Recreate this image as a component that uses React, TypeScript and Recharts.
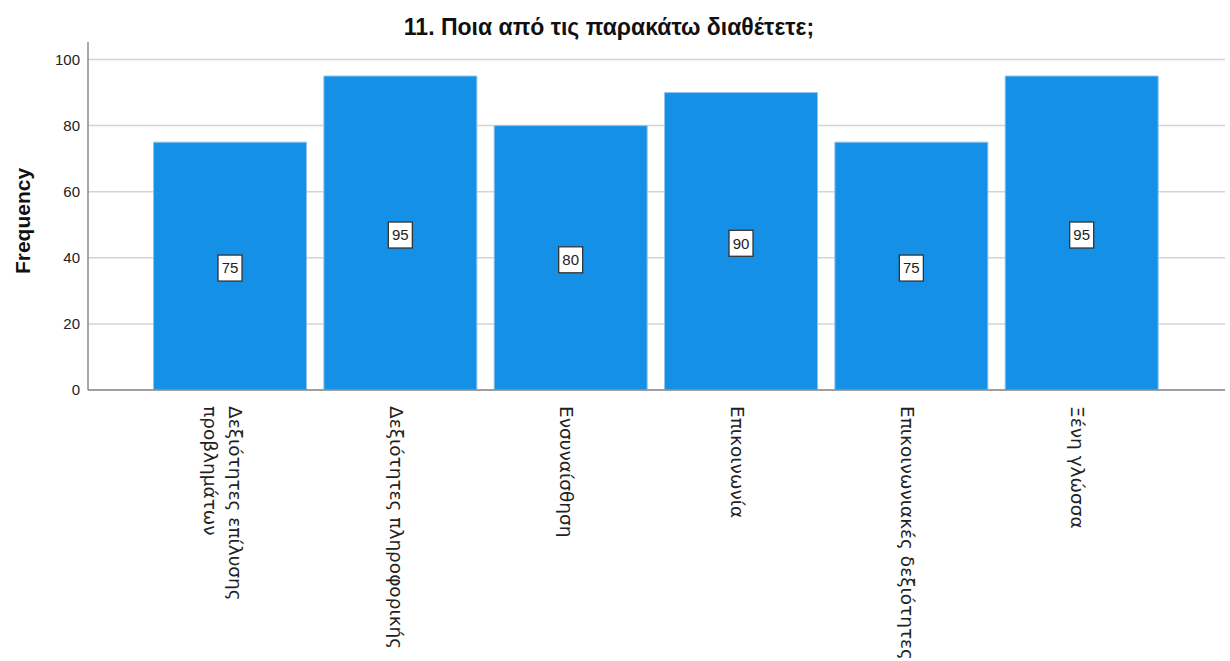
import { Bar, BarChart, CartesianGrid, LabelList, XAxis, YAxis } from "recharts";

const TITLE = "11. Ποια από τις παρακάτω διαθέτετε;";
const CATEGORIES = [
  ["Δεξιότητες επίλυσης", "προβλημάτων"],
  ["Δεξιότητες πληροφορικής"],
  ["Ενσυναίσθηση"],
  ["Επικοινωνία"],
  ["Επικοινωνιακές δεξιότητες"],
  ["Ξένη γλώσσα"],
];
const FREQUENCY = [75, 95, 80, 90, 75, 95];
const Y_TICKS = [0, 20, 40, 60, 80, 100];

const BAR_COLOR = "#1491e6";
const FONT = "'Liberation Sans', Arial, sans-serif";
const TICK_FONT = "'DejaVu Sans', sans-serif";

const data = CATEGORIES.map((lines, i) => ({
  name: lines.join(" "),
  lines,
  value: FREQUENCY[i],
}));

const CategoryTick = (props: any) => {
  const { x, y, index } = props;
  const lines: string[] = data[index]?.lines ?? [];
  const lineGap = 25;
  // first line sits to the right, following lines step left
  const start = lines.length > 1 ? 5 : -4;
  return (
    <g transform={`translate(${x},${y + 8})`}>
      {lines.map((line, i) => (
        <text
          key={line}
          transform={`translate(${start - i * lineGap},0) rotate(90)`}
          x={0}
          y={0}
          dy="0.35em"
          textAnchor="start"
          fontFamily={TICK_FONT}
          fontSize={18.5}
          fill="#222"
        >
          {line}
        </text>
      ))}
    </g>
  );
};

const ValueBox = (props: any) => {
  const { x, y, width, height, value } = props;
  const cx = Number(x) + Number(width) / 2;
  const cy = Number(y) + Number(height) / 2 + 2;
  return (
    <g>
      <rect
        x={cx - 12}
        y={cy - 13}
        width={24}
        height={26}
        fill="#fff"
        stroke="#333"
        strokeWidth={1.3}
      />
      <text
        x={cx}
        y={cy}
        dy="0.36em"
        textAnchor="middle"
        fontFamily={FONT}
        fontSize={15}
        fill="#222"
      >
        {value}
      </text>
    </g>
  );
};

const YTitle = (props: any) => {
  const vb = props.viewBox ?? {};
  const cy = Number(vb.y ?? 42) + Number(vb.height ?? 348) / 2 + 5;
  return (
    <text
      transform={`translate(22,${cy}) rotate(-90)`}
      textAnchor="middle"
      dominantBaseline="central"
      fontFamily={FONT}
      fontWeight="bold"
      fontSize={21}
      fill="#111"
    >
      Frequency
    </text>
  );
};

export default function App() {
  return (
    <div
      style={{
        position: "absolute",
        left: 0,
        top: 0,
        width: 1230,
        height: 661,
        background: "#fff",
      }}
    >
      <div
        style={{
          position: "absolute",
          left: 0,
          top: 13,
          width: 1218,
          textAlign: "center",
          fontFamily: FONT,
          fontWeight: "bold",
          fontSize: 23,
          lineHeight: "28px",
          color: "#111",
        }}
      >
        {TITLE}
      </div>
      <BarChart
        width={1230}
        height={661}
        data={data}
        margin={{ top: 42, right: 5, left: 0, bottom: 0 }}
        barCategoryGap="5%"
      >
        <CartesianGrid
          vertical={false}
          horizontalValues={Y_TICKS}
          stroke="#d4d4d4"
          strokeWidth={1.5}
        />
        <XAxis
          dataKey="name"
          height={271}
          interval={0}
          padding={{ left: 57, right: 58 }}
          axisLine={{ stroke: "#8a8a8a", strokeWidth: 1.5 }}
          tickLine={false}
          tick={<CategoryTick />}
        />
        <YAxis
          width={88}
          domain={[0, 105.3]}
          ticks={Y_TICKS}
          allowDataOverflow
          axisLine={{ stroke: "#8a8a8a", strokeWidth: 1.5 }}
          tickLine={false}
          tickMargin={2}
          tick={{ fontFamily: FONT, fontSize: 15, fill: "#222" }}
          label={<YTitle />}
        />
        <Bar
          dataKey="value"
          fill={BAR_COLOR}
          stroke="#8fc4ee"
          strokeWidth={1}
          isAnimationActive={false}
        >
          <LabelList dataKey="value" content={<ValueBox />} />
        </Bar>
      </BarChart>
    </div>
  );
}
